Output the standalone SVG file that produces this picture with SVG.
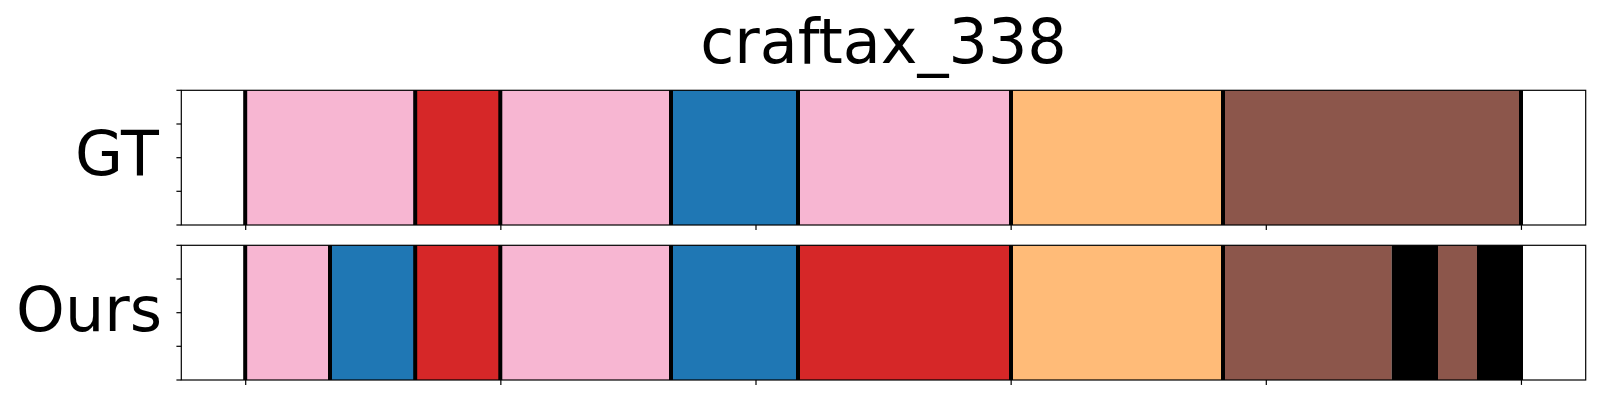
<svg xmlns="http://www.w3.org/2000/svg" width="1600" height="400" viewBox="0 0 1600 400">
<style>
.pk{fill:#f7b6d2}.rd{fill:#d62728}.bl{fill:#1f77b4}.or{fill:#ffbb78}.br{fill:#8c564b}.bk{fill:#000000}
.sep{stroke:#000;stroke-width:4}
.frame{fill:none;stroke:#000;stroke-width:1.2}
.tick{stroke:#000;stroke-width:1.2}
.lbl{font-family:"DejaVu Sans",sans-serif;font-size:62px;fill:#000}
</style>
<rect width="1600" height="400" fill="#fff"/>
<text class="lbl" x="883.5" y="62.7" text-anchor="middle">craftax_338</text>
<g id="gt">
<text class="lbl" x="158.8" y="175" text-anchor="end">GT</text>
<rect class="pk" x="245" y="90.3" width="170" height="134.7"/>
<rect class="rd" x="415" y="90.3" width="85" height="134.7"/>
<rect class="pk" x="500" y="90.3" width="171" height="134.7"/>
<rect class="bl" x="671" y="90.3" width="127" height="134.7"/>
<rect class="pk" x="798" y="90.3" width="213" height="134.7"/>
<rect class="or" x="1011" y="90.3" width="212" height="134.7"/>
<rect class="br" x="1223" y="90.3" width="298" height="134.7"/>
<g class="sep">
<line x1="245.2" y1="90.3" x2="245.2" y2="225"/>
<line x1="415.2" y1="90.3" x2="415.2" y2="225"/>
<line x1="500.3" y1="90.3" x2="500.3" y2="225"/>
<line x1="671" y1="90.3" x2="671" y2="225"/>
<line x1="798" y1="90.3" x2="798" y2="225"/>
<line x1="1011" y1="90.3" x2="1011" y2="225"/>
<line x1="1223" y1="90.3" x2="1223" y2="225"/>
<line x1="1521" y1="90.3" x2="1521" y2="225"/>
</g>
<rect class="frame" x="181.3" y="90.3" width="1404.4" height="134.7"/>
<g class="tick">
<line x1="176.4" y1="90.3" x2="181.3" y2="90.3"/>
<line x1="176.4" y1="124" x2="181.3" y2="124"/>
<line x1="176.4" y1="157.7" x2="181.3" y2="157.7"/>
<line x1="176.4" y1="191.3" x2="181.3" y2="191.3"/>
<line x1="176.4" y1="225" x2="181.3" y2="225"/>
<line x1="245.7" y1="225" x2="245.7" y2="229.9"/>
<line x1="500.85" y1="225" x2="500.85" y2="229.9"/>
<line x1="756" y1="225" x2="756" y2="229.9"/>
<line x1="1011.15" y1="225" x2="1011.15" y2="229.9"/>
<line x1="1266.3" y1="225" x2="1266.3" y2="229.9"/>
<line x1="1521.45" y1="225" x2="1521.45" y2="229.9"/>
</g>
</g>
<g id="ours">
<text class="lbl" x="162" y="330.5" text-anchor="end">Ours</text>
<rect class="pk" x="245" y="245.3" width="85" height="134.7"/>
<rect class="bl" x="330" y="245.3" width="85" height="134.7"/>
<rect class="rd" x="415" y="245.3" width="85" height="134.7"/>
<rect class="pk" x="500" y="245.3" width="171" height="134.7"/>
<rect class="bl" x="671" y="245.3" width="127" height="134.7"/>
<rect class="rd" x="798" y="245.3" width="213" height="134.7"/>
<rect class="or" x="1011" y="245.3" width="212" height="134.7"/>
<rect class="br" x="1223" y="245.3" width="168.7" height="134.7"/>
<rect class="bk" x="1391.7" y="245.3" width="46.3" height="134.7"/>
<rect class="br" x="1438" y="245.3" width="39" height="134.7"/>
<rect class="bk" x="1477" y="245.3" width="46" height="134.7"/>
<g class="sep">
<line x1="245.2" y1="245.3" x2="245.2" y2="380"/>
<line x1="330" y1="245.3" x2="330" y2="380"/>
<line x1="415.2" y1="245.3" x2="415.2" y2="380"/>
<line x1="500.3" y1="245.3" x2="500.3" y2="380"/>
<line x1="671" y1="245.3" x2="671" y2="380"/>
<line x1="798" y1="245.3" x2="798" y2="380"/>
<line x1="1011" y1="245.3" x2="1011" y2="380"/>
<line x1="1223" y1="245.3" x2="1223" y2="380"/>
</g>
<rect class="frame" x="181.3" y="245.3" width="1404.4" height="134.7"/>
<g class="tick">
<line x1="176.4" y1="245.3" x2="181.3" y2="245.3"/>
<line x1="176.4" y1="279" x2="181.3" y2="279"/>
<line x1="176.4" y1="312.7" x2="181.3" y2="312.7"/>
<line x1="176.4" y1="346.3" x2="181.3" y2="346.3"/>
<line x1="176.4" y1="380" x2="181.3" y2="380"/>
<line x1="245.7" y1="380" x2="245.7" y2="384.9"/>
<line x1="500.85" y1="380" x2="500.85" y2="384.9"/>
<line x1="756" y1="380" x2="756" y2="384.9"/>
<line x1="1011.15" y1="380" x2="1011.15" y2="384.9"/>
<line x1="1266.3" y1="380" x2="1266.3" y2="384.9"/>
<line x1="1521.45" y1="380" x2="1521.45" y2="384.9"/>
</g>
</g>
</svg>
